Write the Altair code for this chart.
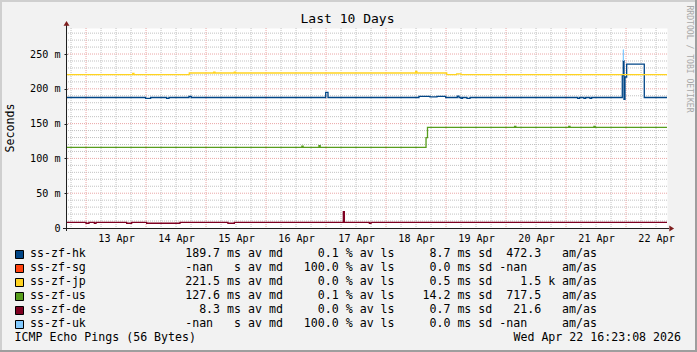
import altair as alt
import pandas as pd

# ---------------- data ----------------
series_names = ["ss-zf-hk", "ss-zf-sg", "ss-zf-jp", "ss-zf-us", "ss-zf-de", "ss-zf-uk"]
series_colors = ["#004586", "#ff420e", "#ffd320", "#579d1c", "#7e0021", "#83caff"]

hk_t = ["04-12 16:23", "04-13 23:50", "04-14 01:50", "04-14 08:15", "04-14 09:10", "04-14 17:10",
        "04-14 18:05", "04-16 23:52", "04-17 00:47", "04-18 13:10", "04-18 17:35", "04-18 20:23",
        "04-18 23:52", "04-19 04:30", "04-19 05:11", "04-19 06:00", "04-19 06:35", "04-19 08:23",
        "04-19 09:35", "04-21 04:40", "04-21 05:25", "04-21 07:10", "04-21 07:50", "04-21 09:35",
        "04-21 10:15", "04-21 22:30", "04-21 22:54", "04-21 23:11", "04-21 23:35", "04-22 00:15",
        "04-22 07:18", "04-22 16:23"]
hk_v = [187.5, 186.3, 187.5, 186.3, 187.5, 189.0, 187.5, 195.0, 187.5, 189.2, 188.3, 189.2,
        187.5, 189.5, 187.5, 186.3, 187.5, 186.3, 187.5, 186.3, 187.5, 186.3, 187.5, 186.3,
        187.5, 219.0, 240.0, 185.0, 217.0, 235.6, 187.5, 187.5]

jp_t = ["04-12 16:23", "04-13 18:40", "04-13 19:10", "04-14 17:18", "04-15 03:04", "04-15 03:35",
        "04-15 11:18", "04-15 11:50", "04-18 11:52", "04-18 12:20", "04-19 00:16", "04-19 04:16",
        "04-19 06:00", "04-22 16:23"]
jp_v = [220.5, 222.0, 220.5, 222.7, 224.0, 222.7, 224.0, 222.7, 225.0, 222.7, 220.4, 221.5,
        220.4, 220.4]

us_t = ["04-12 16:23", "04-16 14:20", "04-16 14:50", "04-16 21:10", "04-16 21:40", "04-18 16:00",
        "04-18 16:35", "04-20 03:25", "04-20 03:55", "04-21 01:05", "04-21 01:35", "04-21 11:10",
        "04-21 11:40", "04-22 16:23"]
us_v = [116.0, 117.5, 116.0, 118.5, 116.0, 130.0, 144.7, 146.0, 144.7, 146.0, 144.7, 146.0,
        144.7, 144.7]

de_t = ["04-12 16:23", "04-13 00:00", "04-13 01:10", "04-13 03:20", "04-13 04:00", "04-13 16:15",
        "04-13 18:15", "04-14 00:15", "04-14 13:35", "04-15 08:45", "04-15 11:20", "04-17 06:55",
        "04-17 07:20", "04-17 17:20", "04-17 18:00", "04-22 16:23"]
de_v = [8.2, 6.8, 8.2, 6.8, 8.2, 6.8, 8.2, 6.8, 8.2, 6.8, 8.2, 23.4, 8.2, 6.8, 8.2, 8.2]

uk_t = ["04-21 22:54", "04-21 22:56"]
uk_v = [256.0, 240.0]

avg_md = ["189.7", "-nan", "221.5", "127.6", "8.3", "-nan"]
avg_unit = ["m", " ", "m", "m", "m", " "]
loss = ["0.1", "100.0", "0.0", "0.1", "0.0", "100.0"]
sd = ["8.7", "0.0", "0.5", "14.2", "0.7", "0.0"]
amas = ["472.3", "-nan", "1.5", "717.5", "21.6", "-nan"]
amas_unit = [" ", " ", "k", " ", " ", " "]

label_days = [13, 14, 15, 16, 17, 18, 19, 20, 21, 22]
y_ticks = [0, 50, 100, 150, 200, 250]
y_max = 287.4

title_text = "Last 10 Days"
y_title = "Seconds"
watermark = "RRDTOOL / TOBI OETIKER"
footer_left = "ICMP Echo Pings (56 Bytes)"
footer_right = "Wed Apr 22 16:23:08 2026"

# ---------------- build ----------------
NB = "\u00a0"
FONT = "DejaVu Sans Mono"
W, H = 600, 200


def iso(s):
    return "2026-%sT%s:00Z" % (s[:5], s[6:])


rows = []
for name, ts, vs in [("ss-zf-hk", hk_t, hk_v), ("ss-zf-jp", jp_t, jp_v), ("ss-zf-us", us_t, us_v),
                     ("ss-zf-de", de_t, de_v), ("ss-zf-uk", uk_t, uk_v)]:
    for t, v in zip(ts, vs):
        rows.append({"series": name, "t": iso(t), "v": v})
df = pd.DataFrame(rows)

x_scale = alt.Scale(type="utc",
                    domain=[alt.DateTime(year=2026, month=4, date=12, hours=16, minutes=23, seconds=8, utc=True),
                            alt.DateTime(year=2026, month=4, date=22, hours=16, minutes=23, seconds=8, utc=True)])
y_scale = alt.Scale(domain=[0, y_max], nice=False, zero=True)

x_axis = alt.Axis(values=[alt.DateTime(year=2026, month=4, date=d, hours=12, utc=True) for d in label_days],
                  labelExpr="utcFormat(datum.value, '%d %b')", tickSize=0, domain=False, grid=False,
                  labelPadding=10, labelBaseline="middle", labelFlush=False, labelOverlap=False,
                  title=None)
y_axis = alt.Axis(values=y_ticks,
                  labelExpr="datum.value == 0 ? '0" + NB + NB + "' : datum.value + '" + NB + "m'",
                  tickSize=3, tickColor="#1f1f1f", tickWidth=1, domain=False, grid=False,
                  labelPadding=4, title=None)

midnights = [d.strftime("%Y-%m-%dT%H:%M:%SZ") for d in pd.date_range("2026-04-13", "2026-04-22", freq="D")]
sixes = [d.strftime("%Y-%m-%dT%H:%M:%SZ") for d in pd.date_range("2026-04-12 18:00", "2026-04-22 12:00", freq="6h")
         if d.hour != 0]
minor_y = [v for v in range(10, 290, 10) if v % 50]
major_y = [50, 100, 150, 200, 250]

GRID = "#c2c2c2"
MGRID = "#eaa6a6"

vminor = alt.Chart(pd.DataFrame({"t": sixes})).mark_rule(color=GRID, strokeDash=[1, 1], strokeWidth=1).encode(
    x=alt.X("t:T", scale=x_scale, axis=x_axis))
hminor = alt.Chart(pd.DataFrame({"y": minor_y})).mark_rule(color=GRID, strokeDash=[1, 1], strokeWidth=1).encode(
    y=alt.Y("y:Q", scale=y_scale, axis=y_axis))
vmajor = alt.Chart(pd.DataFrame({"t": midnights})).mark_rule(color=MGRID, strokeDash=[1, 1], strokeWidth=1).encode(
    x=alt.X("t:T", scale=x_scale, axis=x_axis))
hmajor = alt.Chart(pd.DataFrame({"y": major_y})).mark_rule(color=MGRID, strokeDash=[1, 1], strokeWidth=1).encode(
    y=alt.Y("y:Q", scale=y_scale, axis=y_axis))

lines = alt.Chart(df).mark_line(interpolate="step-after", strokeWidth=1.3, clip=True).encode(
    x=alt.X("t:T", scale=x_scale, axis=x_axis),
    y=alt.Y("v:Q", scale=y_scale, axis=y_axis),
    color=alt.Color("series:N", scale=alt.Scale(domain=series_names, range=series_colors), legend=None),
)

dummy = pd.DataFrame({"k": [0]})
AX = "#1f1f1f"
ARROW = "#7f1f1f"

yaxis_line = alt.Chart(dummy).mark_rule(color=AX, strokeWidth=1).encode(
    x=alt.value(-0.5), y=alt.value(-3), y2=alt.value(203))
xaxis_line = alt.Chart(dummy).mark_rule(color=AX, strokeWidth=1).encode(
    x=alt.value(-4), x2=alt.value(602), y=alt.value(200.5))
up_arrow = alt.Chart(dummy).mark_point(shape="M-1,0.8L1,0.8L0,-0.8Z", size=36, filled=True, color=ARROW,
                                       opacity=1).encode(x=alt.value(-0.5), y=alt.value(-4.7))
right_arrow = alt.Chart(dummy).mark_point(shape="M-0.8,-1L-0.8,1L0.8,0Z", size=36, filled=True, color=ARROW,
                                          opacity=1).encode(x=alt.value(604.7), y=alt.value(200.5))

title = alt.Chart(dummy).mark_text(text=title_text, font=FONT, fontSize=13, align="center", baseline="middle",
                                   color="#000").encode(x=alt.value(280.5), y=alt.value(-9))
ytitle = alt.Chart(dummy).mark_text(text=y_title, font=FONT, fontSize=11.6, align="center", baseline="middle",
                                    angle=270, color="#000").encode(x=alt.value(-56), y=alt.value(100))
wmark = alt.Chart(dummy).mark_text(text=watermark, font=FONT, fontSize=8.1, align="center", baseline="middle",
                                   angle=90, color="#a8a8a8").encode(x=alt.value(621.5), y=alt.value(31))


def stats_row(i):
    a = avg_md[i]
    first = (a.ljust(5) if "nan" in a else a.rjust(5)) + " " + avg_unit[i] + "s av md"
    second = loss[i].rjust(8) + " % av ls"
    third = sd[i].rjust(8) + " ms sd"
    m = amas[i]
    fourth = (" " + m).ljust(7) if "nan" in m else m.rjust(7)
    fifth = " " + amas_unit[i] + " am/as"
    return (first + second + third + fourth + fifth).replace(" ", NB)


legend_layers = []
for i, name in enumerate(series_names):
    yy = 226 + 14 * i
    d = pd.DataFrame({"name": [name], "stats": [stats_row(i)]})
    legend_layers.append(alt.Chart(d).mark_square(size=64, color=series_colors[i], stroke="#000", strokeWidth=1,
                                                  opacity=1).encode(x=alt.value(-47.5), y=alt.value(yy + 0.5)))
    legend_layers.append(alt.Chart(d).mark_text(font=FONT, fontSize=11.6, align="left", baseline="middle",
                                                color="#000").encode(x=alt.value(-37), y=alt.value(yy),
                                                                     text="name:N"))
    legend_layers.append(alt.Chart(d).mark_text(font=FONT, fontSize=11.6, align="right", baseline="middle",
                                                color="#000").encode(x=alt.value(530), y=alt.value(yy),
                                                                     text="stats:N"))

foot_l = alt.Chart(dummy).mark_text(text=footer_left, font=FONT, fontSize=11.6, align="left", baseline="middle",
                                    color="#000").encode(x=alt.value(-52.5), y=alt.value(310))
foot_r = alt.Chart(dummy).mark_text(text=footer_right, font=FONT, fontSize=11.6, align="right", baseline="middle",
                                    color="#000").encode(x=alt.value(614), y=alt.value(310))

b_left = alt.Chart(dummy).mark_rule(color="#cfcfcf", strokeWidth=2).encode(
    x=alt.value(-66), y=alt.value(-28), y2=alt.value(324))
b_top = alt.Chart(dummy).mark_rule(color="#cfcfcf", strokeWidth=2).encode(
    y=alt.value(-27), x=alt.value(-67), x2=alt.value(630))
b_right = alt.Chart(dummy).mark_rule(color="#9e9e9e", strokeWidth=2).encode(
    x=alt.value(629), y=alt.value(-28), y2=alt.value(324))
b_bottom = alt.Chart(dummy).mark_rule(color="#9e9e9e", strokeWidth=2).encode(
    y=alt.value(323), x=alt.value(-67), x2=alt.value(630))

chart = alt.layer(
    vminor, hminor, vmajor, hmajor, lines,
    yaxis_line, xaxis_line, up_arrow, right_arrow,
    title, ytitle, wmark, *legend_layers, foot_l, foot_r,
    b_left, b_top, b_right, b_bottom,
).properties(
    width=W, height=H,
    padding={"left": 67, "top": 28, "right": 30, "bottom": 124},
    autosize=alt.AutoSizeParams(type="none"),
    background="#f2f2f2",
).configure_view(
    fill="#ffffff", stroke="transparent"
).configure_axis(
    labelFont=FONT, labelFontSize=10.1, labelColor="#000000"
)

chart.save("out.html", embed_options={"renderer": "svg", "actions": False})
